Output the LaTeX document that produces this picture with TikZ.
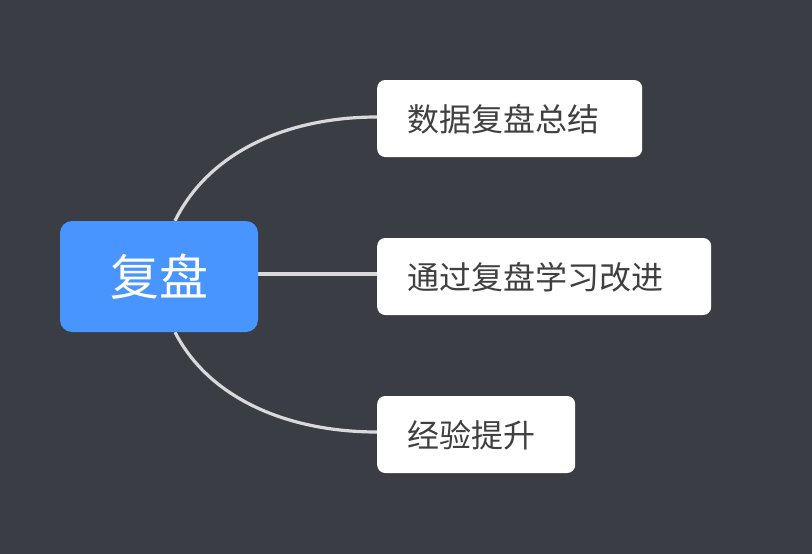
\documentclass[tikz,border=0pt]{standalone}
\usepackage{fontspec}
\newfontfamily\cjk{Noto Sans CJK SC}
\definecolor{bg}{HTML}{3A3D43}
\definecolor{rootblue}{HTML}{4895FF}
\definecolor{txt}{HTML}{404040}
\definecolor{link}{HTML}{D9D9D9}
\pgfdeclarelayer{back}
\pgfdeclarelayer{links}
\pgfsetlayers{back,links,main}
\begin{document}
\begin{tikzpicture}[x=1pt,y=-1pt,
  rootbox/.style={fill=rootblue,rounded corners=12pt,minimum width=198pt,minimum height=111pt,inner sep=0pt,text=white,font=\cjk\fontsize{49}{52}\selectfont},
  childbox/.style={fill=white,rounded corners=8pt,minimum height=77pt,inner sep=0pt,anchor=west},
  childtext/.style={text=txt,font=\cjk\fontsize{32}{36}\selectfont,anchor=west,inner sep=0pt},
  conn/.style={draw=link,line width=3.2pt}]
\begin{pgfonlayer}{back}
\fill[bg] (0,0) rectangle (812,554);
\end{pgfonlayer}
\useasboundingbox (0,0) rectangle (812,554);
\node[rootbox] (root) at (159,276.5) {复盘};
\node[childbox,minimum width=265pt] (c1) at (377,118.5) {};
\node[childbox,minimum width=334pt] (c2) at (377,276.5) {};
\node[childbox,minimum width=198pt] (c3) at (377,434.5) {};
\node[childtext] (t1) at (407,119) {数据复盘总结};
\node[childtext] (t2) at (407,277) {通过复盘学习改进};
\node[childtext] (t3) at (407,435) {经验提升};
\coordinate (r1) at ([xshift=16pt]root.north);
\coordinate (r3) at ([xshift=16pt]root.south);
\begin{pgfonlayer}{links}
\draw[conn] (r1) .. controls (210,150) and (290,117) .. (c1.west |- 0,117);
\draw[conn] (root.east |- 0,274) -- (c2.west |- 0,274);
\draw[conn] (r3) .. controls (210,400) and (290,432) .. (c3.west |- 0,432);
\end{pgfonlayer}
\end{tikzpicture}
\end{document}
